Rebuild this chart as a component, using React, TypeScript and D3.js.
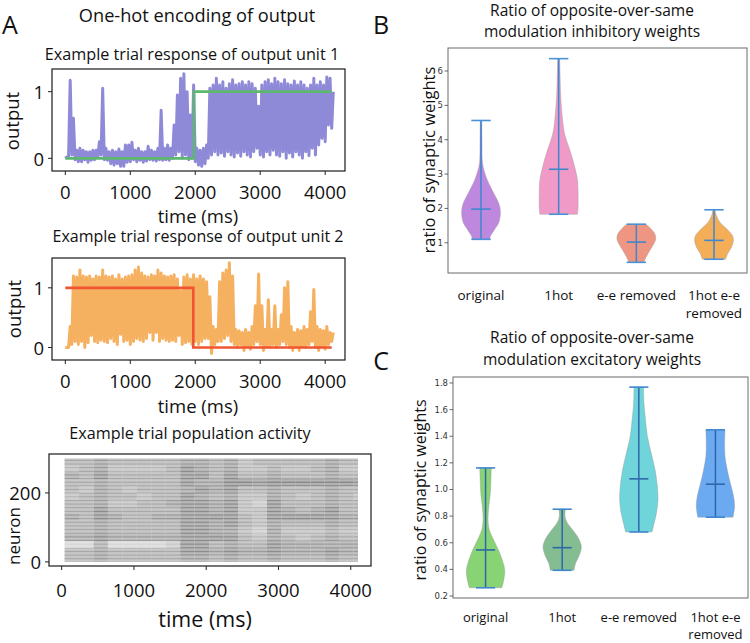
import React, { useEffect, useRef } from 'react';
import * as d3 from 'd3';

const W = 750;
const H = 643;
const FONT = "'Open Sans', 'DejaVu Sans', sans-serif";

// Panel A: output traces, one low and one high sample per 50 ms bin (t = 0 ... 4100 ms)
const traceTimes = d3.range(0, 4101, 50);
const unit1Low = [
  0, 0.02, 0.05, -0.02, -0.05, -0.05, -0.02, -0.06, -0.03, -0.02,
  0.02, 0.05, -0.02, -0.03, -0.08, -0.1, -0.08, -0.12, -0.12, -0.06,
  -0.05, -0.02, -0.05, -0.03, -0.06, -0.04, -0.02, -0.03, -0.04, -0.02,
  -0.03, -0.02, -0.03, 0, 0.05, 0.1, 0, 0.05, -0.02, 0,
  -0.05, -0.1, -0.12, -0.08, 0, 0.05, 0.1, 0.05, 0.08, 0.03,
  0.1, 0.05, 0.02, 0.08, 0.03, 0.1, 0.05, 0.02, 0.1, 0.15,
  0.05, 0.02, 0.1, 0.05, 0.12, 0.05, 0.03, 0.1, 0, 0.08,
  0.02, 0.1, 0.05, 0, 0.1, 0.04, 0.15, 0.05, 0.2, 0.3,
  0.25, 0.5, 0.45,
];
const unit1High = [
  0.02, 1.17, 0.6, 0.12, 0.15, 0.12, 0.1, 0.1, 0.12, 0.12,
  0.25, 1.05, 0.15, 0.1, 0.12, 0.1, 0.14, 0.1, 0.2, 0.2,
  0.24, 0.12, 0.15, 0.1, 0.1, 0.18, 0.12, 0.1, 0.15, 0.72,
  0.15, 0.2, 0.15, 0.5, 0.95, 1.2, 1.27, 1.0, 0.65, 1.1,
  0.15, 0.12, 0.15, 0.2, 1.05, 1.1, 1.2, 1.1, 1.15, 1.05,
  1.12, 1.18, 1.1, 1.12, 1.15, 1.1, 1.15, 1.12, 1.05, 0.78,
  1.1, 1.15, 1.18, 1.12, 1.2, 1.15, 1.12, 1.18, 1.12, 1.1,
  1.16, 1.1, 1.15, 1.1, 1.05, 1.1, 1.2, 1.1, 1.15, 1.1,
  1.22, 1.2, 1.0,
];
const unit1TargetT = [0, 1980, 1980, 4100];
const unit1TargetV = [0, 0, 1, 1];

const unit2Low = [
  0, 0, 0.05, 0.1, 0.05, 0.1, 0, 0.08, 0.2, 0.1,
  0.08, 0.12, 0.1, 0.08, 0.15, 0.1, 0.05, 0.22, 0.1, 0.12,
  0.05, 0.1, 0.15, 0.12, 0.1, 0.15, 0.25, 0.12, 0.25, 0.1,
  0.15, 0.12, 0.1, 0.12, 0.1, 0.2, 0.05, 0.08, 0.1, 0.05,
  0.1, 0.05, 0.1, 0.15, 0.15, -0.1, 0.05, 0.1, 0.1, 0.15,
  0.2, 0.1, 0.05, 0, 0.05, -0.05, 0.02, -0.03, 0.05, 0.1,
  0.05, -0.05, 0.02, 0, 0.05, 0, 0.05, 0.1, 0.05, 0,
  -0.05, 0.02, -0.05, 0.02, 0, 0.05, 0.1, 0, -0.05, 0.02,
  -0.03, 0.05, 0.1,
];
const unit2High = [
  0, 0.35, 1.2, 1.18, 1.3, 1.2, 1.18, 1.2, 1.15, 1.2,
  1.18, 1.3, 1.2, 1.18, 1.2, 1.15, 1.22, 1.15, 1.18, 1.2,
  1.22, 1.3, 1.35, 1.25, 1.2, 1.18, 1.22, 1.2, 1.3, 1.25,
  1.2, 1.18, 1.2, 1.22, 1.15, 0.95, 1.18, 1.22, 1.15, 1.22,
  1.15, 1.2, 1.15, 1.1, 0.85, 0.35, 0.3, 1.1, 1.25, 1.3,
  1.42, 1.2, 0.3, 0.28, 0.25, 0.3, 0.25, 0.35, 0.7, 1.23,
  0.7, 0.3, 0.8, 0.3, 0.7, 0.3, 0.55, 1.0, 1.1, 0.35,
  0.25, 0.3, 0.28, 0.35, 0.3, 0.6, 0.97, 0.35, 0.3, 0.28,
  0.35, 0.25, 0.25,
];
const unit2TargetT = [0, 1970, 1970, 4100];
const unit2TargetV = [1, 1, 0, 0];

const outputTicks = [0, 1];
const timeTicks = [0, 1000, 2000, 3000, 4000];

// raster: density digit (0-9) per 200 ms bin; rows are 20-neuron bands, top (280-300) to bottom (0-20)
const rasterBinStarts = [40, 240, 440, 640, 840, 1040, 1240, 1440, 1640, 1840, 2040, 2240, 2440, 2640, 2840, 3040, 3240, 3440, 3640, 3840, 4040];
const rasterDensity = [
  '667666667767566666766',
  '567555568767556556755',
  '768666668868667666766',
  '667666668779989999998',
  '657656667878667666766',
  '567665668767557656765',
  '667556678878548666766',
  '668666668878558767866',
  '768766778888658888877',
  '667666668878657666766',
  '667666668877547555655',
  '778777778888657656766',
  '336333348867668777777',
  '667666668878778777877',
  '667666667767667666766',
];
const neuronTicks = [0, 200];

// Panels B and C: violins
const categories = ['original', '1hot', 'e-e removed', '1hot e-e\nremoved'];

const inhProfileValues = [
  [4.56, 3.98, 3.4, 3.2, 2.82, 2.43, 2.14, 1.89, 1.6, 1.36, 1.21, 1.1],
  [6.36, 5.93, 5.34, 4.76, 4.18, 3.69, 3.2, 2.82, 2.43, 2.04, 1.83],
  [1.54, 1.41, 1.26, 1.12, 0.97, 0.78, 0.58, 0.43],
  [1.96, 1.8, 1.6, 1.41, 1.21, 1.07, 0.87, 0.68, 0.52],
];
const inhProfileDensity = [
  [0.035, 0.05, 0.065, 0.115, 0.33, 0.67, 0.92, 1, 0.92, 0.67, 0.5, 0.45],
  [0.05, 0.07, 0.1, 0.17, 0.3, 0.58, 0.83, 0.97, 1, 1, 0.97],
  [0.5, 0.75, 0.95, 1, 0.9, 0.7, 0.5, 0.38],
  [0.05, 0.12, 0.3, 0.65, 0.95, 1, 0.9, 0.7, 0.6],
];
const inhMin = [1.1, 1.83, 0.43, 0.52];
const inhMax = [4.56, 6.36, 1.54, 1.96];
const inhMedian = [1.98, 3.14, 1.02, 1.07];
const inhTicks = [1, 2, 3, 4, 5, 6];

const excProfileValues = [
  [1.162, 1.072, 0.972, 0.872, 0.772, 0.696, 0.621, 0.546, 0.471, 0.396, 0.32, 0.262],
  [0.852, 0.796, 0.746, 0.696, 0.634, 0.571, 0.508, 0.446, 0.393],
  [1.769, 1.649, 1.523, 1.398, 1.273, 1.147, 1.022, 0.922, 0.822, 0.747, 0.681],
  [1.448, 1.348, 1.247, 1.147, 1.047, 0.947, 0.872, 0.792],
];
const excProfileDensity = [
  [0.3, 0.28, 0.25, 0.17, 0.13, 0.2, 0.42, 0.67, 0.87, 1, 0.95, 0.85],
  [0.17, 0.15, 0.28, 0.55, 0.85, 1, 0.9, 0.7, 0.62],
  [0.25, 0.27, 0.35, 0.45, 0.65, 0.85, 0.97, 1, 0.92, 0.8, 0.69],
  [0.5, 0.48, 0.5, 0.62, 0.78, 0.95, 1, 0.92],
];
const excMin = [0.262, 0.393, 0.681, 0.792];
const excMax = [1.162, 0.852, 1.769, 1.448];
const excMedian = [0.546, 0.563, 1.08, 1.04];
const excTicks = [0.2, 0.4, 0.6, 0.8, 1.0, 1.2, 1.4, 1.6, 1.8];

const inhColors = ['#be88de', '#f09bc7', '#ef9683', '#f4ae58'];
const excColors = ['#88d374', '#84bd91', '#6fd5da', '#6baaf0'];

type Box = { l: number; r: number; t: number; b: number };

const App: React.FC = () => {
  const svgRef = useRef<SVGSVGElement>(null);

  useEffect(() => {
    if (!svgRef.current) return;
    const svg = d3.select(svgRef.current);
    svg.selectAll('*').remove();
    svg.append('rect').attr('width', W).attr('height', H).attr('fill', '#fff');

    const txt = (x: number, y: number, s: string, size: number, anchor = 'middle', fam = FONT, fill = '#111') =>
      svg.append('text')
        .attr('x', x).attr('y', y)
        .attr('text-anchor', anchor)
        .attr('dominant-baseline', 'central')
        .style('font-family', fam)
        .style('font-size', `${size}px`)
        .attr('fill', fill)
        .text(s);

    const frameA = (box: Box) => {
      svg.append('rect')
        .attr('x', box.l).attr('y', box.t)
        .attr('width', box.r - box.l).attr('height', box.b - box.t)
        .attr('fill', 'none').attr('stroke', '#1a1a1a').attr('stroke-width', 1.2);
    };

    // ---------- Panel A ----------
    const tracePanel = (box: Box, yDomain: [number, number], lo: number[], hi: number[], color: string,
      tT: number[], tV: number[], tColor: string) => {
      const x = d3.scaleLinear().domain([-205, 4305]).range([box.l, box.r]);
      const y = d3.scaleLinear().domain(yDomain).range([box.b, box.t]);
      // fast oscillating trace: alternates low and high sample within every bin
      const pts: [number, number][] = [];
      traceTimes.forEach((t, i) => {
        pts.push([x(t), y(lo[i])]);
        pts.push([x(t + 25), y(hi[i])]);
      });
      svg.append('path')
        .attr('d', d3.line()(pts) || '')
        .attr('fill', 'none')
        .attr('stroke', color)
        .attr('stroke-width', 3)
        .attr('stroke-linejoin', 'round');
      const target: [number, number][] = tT.map((t, i) => [x(t), y(tV[i])]);
      svg.append('path')
        .attr('d', d3.line()(target) || '')
        .attr('fill', 'none')
        .attr('stroke', tColor)
        .attr('stroke-width', 2.6);
      frameA(box);
      timeTicks.forEach(t => {
        svg.append('line').attr('x1', x(t)).attr('x2', x(t)).attr('y1', box.b).attr('y2', box.b + 4)
          .attr('stroke', '#222').attr('stroke-width', 1);
        txt(x(t), box.b + 20, String(t), 18.5);
      });
      outputTicks.forEach(v => {
        svg.append('line').attr('x1', box.l - 4).attr('x2', box.l).attr('y1', y(v)).attr('y2', y(v))
          .attr('stroke', '#222').attr('stroke-width', 1);
        txt(box.l - 8, y(v), String(v), 18.5, 'end');
      });
    };

    txt(10, 24, 'A', 25, 'middle');
    txt(197, 15, 'One-hot encoding of output', 18.2);

    const box1 = { l: 52, r: 345, t: 69, b: 171 };
    txt(192, 54, 'Example trial response of output unit 1', 16.2);
    tracePanel(box1, [-0.19, 1.34], unit1Low, unit1High, '#8f8ad8', unit1TargetT, unit1TargetV, '#5db86f');
    txt(198, 215, 'time (ms)', 18.5);
    txt(11, 121, 'output', 18.5).attr('transform', 'rotate(-90,11,121)');

    const box2 = { l: 52, r: 345, t: 258, b: 360 };
    txt(198, 236, 'Example trial response of output unit 2', 16);
    tracePanel(box2, [-0.21, 1.5], unit2Low, unit2High, '#f5b060', unit2TargetT, unit2TargetV, '#ef5530');
    txt(198, 405, 'time (ms)', 18.5);
    txt(13, 309, 'output', 18.5).attr('transform', 'rotate(-90,13,309)');

    // raster: each 20-neuron band is drawn as thin horizontal rows whose
    // darkness follows the band's density digit
    const rbox = { l: 49, r: 371, t: 454, b: 566 };
    txt(190, 433, 'Example trial population activity', 16.2);
    const rx = d3.scaleLinear().domain([-175, 4280]).range([rbox.l, rbox.r]);
    const ry = d3.scaleLinear().domain([-12, 313]).range([rbox.b, rbox.t]);
    const rows = rasterDensity.slice().reverse();
    const rg = svg.append('g');
    rows.forEach((row, r) => {
      row.split('').forEach((ch, c) => {
        const d = +ch;
        const t0 = rasterBinStarts[c];
        const t1 = Math.min(t0 + 200, 4100);
        for (let k = 0; k < 5; k++) {
          const n = r * 20 + k * 4 + 2;
          rg.append('line')
            .attr('x1', rx(t0)).attr('x2', rx(t1))
            .attr('y1', ry(n)).attr('y2', ry(n))
            .attr('stroke', '#858585')
            .attr('stroke-width', 1.1)
            .attr('stroke-opacity', Math.min(1, d / 8.5));
        }
      });
    });
    frameA(rbox);
    timeTicks.forEach(t => {
      svg.append('line').attr('x1', rx(t)).attr('x2', rx(t)).attr('y1', rbox.b).attr('y2', rbox.b + 4)
        .attr('stroke', '#222').attr('stroke-width', 1);
      txt(rx(t), rbox.b + 23, String(t), 18.5);
    });
    neuronTicks.forEach(v => {
      svg.append('line').attr('x1', rbox.l - 4).attr('x2', rbox.l).attr('y1', ry(v)).attr('y2', ry(v))
        .attr('stroke', '#222').attr('stroke-width', 1);
      txt(rbox.l - 8, ry(v), String(v), 18.5, 'end');
    });
    txt(205, 618, 'time (ms)', 21.5);
    txt(13, 536, 'neuron', 17).attr('transform', 'rotate(-90,13,536)');

    // ---------- Panels B and C ----------
    const violinPanel = (box: Box, yDomain: [number, number], ticks: number[], fmt: (v: number) => string,
      vals: number[][], dens: number[][], mins: number[], maxs: number[], meds: number[],
      colors: string[], barColor: string, capColor: string, labelY: number, lineGap: number, labelSize: number) => {
      const x = d3.scaleLinear().domain([0.575, 4.425]).range([box.l, box.r]);
      const y = d3.scaleLinear().domain(yDomain).range([box.b, box.t]);
      const half = x(1.25) - x(1);
      const capHalf = x(1.125) - x(1);
      vals.forEach((vs, i) => {
        const cx = x(i + 1);
        const pts = vs.map((v, j) => ({ v, d: dens[i][j] }));
        const area = d3.area<{ v: number; d: number }>()
          .y(p => y(p.v))
          .x0(p => cx - p.d * half)
          .x1(p => cx + p.d * half)
          .curve(d3.curveCatmullRom);
        svg.append('path').attr('d', area(pts) || '')
          .attr('fill', colors[i])
          .attr('stroke', '#9a9a9a').attr('stroke-width', 0.6).attr('stroke-opacity', 0.7);
        svg.append('line').attr('x1', cx).attr('x2', cx).attr('y1', y(mins[i])).attr('y2', y(maxs[i]))
          .attr('stroke', barColor).attr('stroke-width', 1.5);
        [mins[i], maxs[i], meds[i]].forEach((v, k) => {
          svg.append('line').attr('x1', cx - capHalf).attr('x2', cx + capHalf).attr('y1', y(v)).attr('y2', y(v))
            .attr('stroke', k === 2 ? barColor : capColor).attr('stroke-width', 1.6);
        });
        const lines = categories[i].split('\n');
        lines.forEach((s, k) => txt(cx, labelY + k * lineGap, s, labelSize));
      });
      svg.append('rect')
        .attr('x', box.l).attr('y', box.t)
        .attr('width', box.r - box.l).attr('height', box.b - box.t)
        .attr('fill', 'none').attr('stroke', '#6a6a6a').attr('stroke-width', 1);
      ticks.forEach(v => {
        svg.append('line').attr('x1', box.l - 3.5).attr('x2', box.l).attr('y1', y(v)).attr('y2', y(v))
          .attr('stroke', '#444').attr('stroke-width', 0.8);
        txt(box.l - 5, y(v), fmt(v), 8.5, 'end', "'DejaVu Sans', sans-serif", '#333');
      });
    };

    txt(381, 24, 'B', 25);
    txt(592, 10, 'Ratio of opposite-over-same', 15.5);
    txt(592, 31, 'modulation inhibitory weights', 15.5);
    violinPanel({ l: 448, r: 747, t: 48, b: 273 }, [0.12, 6.67], inhTicks, d3.format('d'),
      inhProfileValues, inhProfileDensity, inhMin, inhMax, inhMedian, inhColors, '#3f86cf', '#4a92d8', 295, 17.5, 13.5);
    txt(428, 160, 'ratio of synaptic weights', 16.5).attr('transform', 'rotate(-90,428,160)');

    txt(381, 360, 'C', 25);
    txt(592, 337, 'Ratio of opposite-over-same', 15.5);
    txt(592, 359, 'modulation excitatory weights', 15.5);
    violinPanel({ l: 453, r: 748, t: 377, b: 598 }, [0.185, 1.845], excTicks, d3.format('.1f'),
      excProfileValues, excProfileDensity, excMin, excMax, excMedian, excColors, '#2f67ab', '#3f86cf', 617, 17, 13);
    txt(420, 490, 'ratio of synaptic weights', 16).attr('transform', 'rotate(-90,420,490)');
  }, []);

  return (
    <svg ref={svgRef} width={W} height={H} style={{ position: 'absolute', left: 0, top: 0 }} />
  );
};

export default App;
